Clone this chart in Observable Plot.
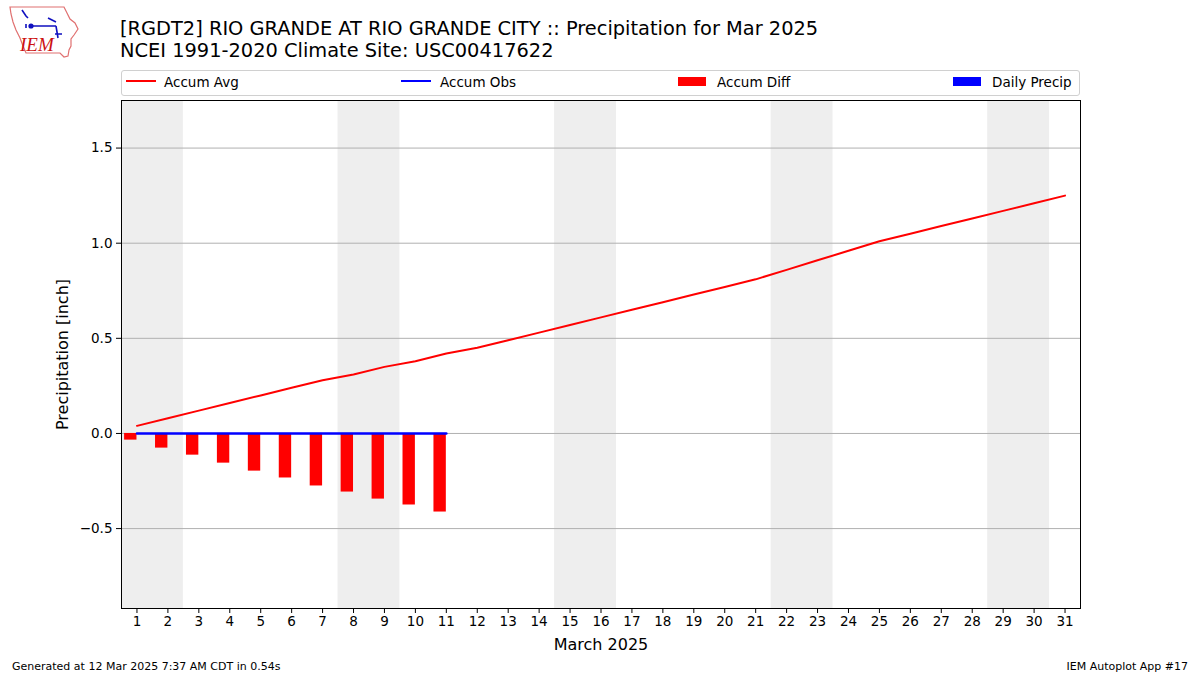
<!DOCTYPE html>
<html>
<head>
<meta charset="utf-8">
<script src="https://cdn.jsdelivr.net/npm/d3@7"></script>
<script src="https://cdn.jsdelivr.net/npm/@observablehq/plot@0.6"></script>
<style>
  html, body { margin: 0; padding: 0; background: #fff; }
  body { width: 1200px; height: 675px; position: relative; overflow: hidden; font-family: "DejaVu Sans", sans-serif; color: #000; }
  .abs { position: absolute; white-space: nowrap; }
  .title { font-size: 19.4px; left: 120px; line-height: 22px; }
  .legend { left: 121px; top: 70px; width: 957px; height: 24px; border: 1px solid #d0d0d0; border-radius: 3px; }
  .leg { position: absolute; top: 2px; font-size: 13.5px; line-height: 18px; }
  .swl { position: absolute; top: 9px; width: 30px; height: 2px; }
  .swp { position: absolute; top: 6px; width: 28px; height: 9px; }
  .foot { font-size: 11px; top: 660px; }
  #chart { position: absolute; left: 0; top: 90px; }
</style>
</head>
<body>
<svg class="abs" style="left:6px;top:4px" width="76" height="56" viewBox="0 0 76 56">
  <path d="M4,3 L58,3 L61,9 L64,15 L69,19 L72,25 L68,31 L65,35 L65,42 L63,46 L62,52 L58,53 L54,49 L20,49 L17,42 L14,34 L10,26 L7,18 L5,10 Z" fill="none" stroke="#e07070" stroke-width="1.2"/>
  <path d="M16,6 L20,12 L22,14 M24,22 L48,22 L50,22 M42,14 L50,18 M50,22 L52,34 M49,30 L56,30 M20,20 L20,24" stroke="#1010c0" stroke-width="1.6" fill="none"/>
  <circle cx="25" cy="22" r="2.6" fill="#1010c0"/>
  <text x="14" y="47" font-family="Liberation Serif, serif" font-style="italic" font-size="19" fill="#cc1111">IEM</text>
</svg>
<div class="abs title" style="top:18px">[RGDT2] RIO GRANDE AT RIO GRANDE CITY :: Precipitation for Mar 2025</div>
<div class="abs title" style="top:40px">NCEI 1991-2020 Climate Site: USC00417622</div>
<div class="abs legend">
  <div class="swl" style="left:4px;background:#ff0000"></div>
  <div class="leg" style="left:42px">Accum Avg</div>
  <div class="swl" style="left:279px;background:#0000ff"></div>
  <div class="leg" style="left:318px">Accum Obs</div>
  <div class="swp" style="left:556px;background:#ff0000"></div>
  <div class="leg" style="left:595px">Accum Diff</div>
  <div class="swp" style="left:831px;background:#0000ff"></div>
  <div class="leg" style="left:870px">Daily Precip</div>
</div>
<div id="chart"></div>
<div class="abs foot" style="left:12px">Generated at 12 Mar 2025 7:37 AM CDT in 0.54s</div>
<div class="abs foot" style="right:12px">IEM Autoplot App #17</div>
<script>
const days = d3.range(1, 32);
const accumAvg = [0.04, 0.08, 0.12, 0.16, 0.20, 0.24, 0.28, 0.31, 0.35, 0.38, 0.42, 0.45, 0.49, 0.53, 0.57, 0.61, 0.65, 0.69, 0.73, 0.77, 0.81, 0.86, 0.91, 0.96, 1.01, 1.05, 1.09, 1.13, 1.17, 1.21, 1.25];
const obsDays = d3.range(1, 12);
const accumObs = [0, 0, 0, 0, 0, 0, 0, 0, 0, 0, 0];
const accumDiff = [-0.035, -0.077, -0.114, -0.156, -0.198, -0.234, -0.276, -0.308, -0.345, -0.376, -0.413];
const dailyPrecip = [0, 0, 0, 0, 0, 0, 0, 0, 0, 0, 0];
const weekendStarts = [1, 8, 15, 22, 29];
const yTicks = [-0.5, 0, 0.5, 1.0, 1.5];

const avgData = days.map((d, i) => ({day: d, v: accumAvg[i]}));
const obsData = obsDays.map((d, i) => ({day: d, obs: accumObs[i], diff: accumDiff[i], p: dailyPrecip[i]}));
const weekends = weekendStarts.map(s => ({x1: s - 0.5, x2: s + 1.5}));

const chart = Plot.plot({
  width: 1200,
  height: 585,
  marginLeft: 121,
  marginRight: 120,
  marginTop: 10,
  marginBottom: 67,
  style: {fontFamily: "DejaVu Sans, sans-serif", fontSize: "13.5px", color: "#000", background: "transparent"},
  x: {domain: [0.5, 31.5]},
  y: {domain: [-0.92, 1.75]},
  marks: [
    Plot.rect(weekends, {x1: "x1", x2: "x2", fill: "#eeeeee"}),
    Plot.ruleY(yTicks, {stroke: "#b0b0b0", strokeWidth: 1}),
    Plot.rect(obsData, {x1: d => d.day - 0.4, x2: "day", y1: 0, y2: "diff", fill: "#ff0000"}),
    Plot.rect(obsData, {x1: "day", x2: d => d.day + 0.4, y1: 0, y2: "p", fill: "#0000ff"}),
    Plot.line(avgData, {x: "day", y: "v", stroke: "#ff0000", strokeWidth: 2}),
    Plot.line(obsData, {x: "day", y: "obs", stroke: "#0000ff", strokeWidth: 2.5}),
    Plot.frame({stroke: "#000", strokeWidth: 1}),
    Plot.axisY({ticks: yTicks, tickFormat: d3.format(".1f"), tickSize: 5, tickPadding: 4, fontSize: 13.5,
      label: "Precipitation [inch]", labelAnchor: "center", labelArrow: "none", labelOffset: 65}),
    Plot.axisX({ticks: days, tickFormat: d => String(d), tickSize: 5, tickPadding: 3, fontSize: 13.5,
      label: "March 2025", labelAnchor: "center", labelArrow: "none", labelOffset: 41})
  ]
});
chart.querySelectorAll('[aria-label="y-axis label"] text, [aria-label="x-axis label"] text').forEach(t => t.setAttribute("font-size", "16px"));
document.getElementById("chart").appendChild(chart);
</script>
</body>
</html>
